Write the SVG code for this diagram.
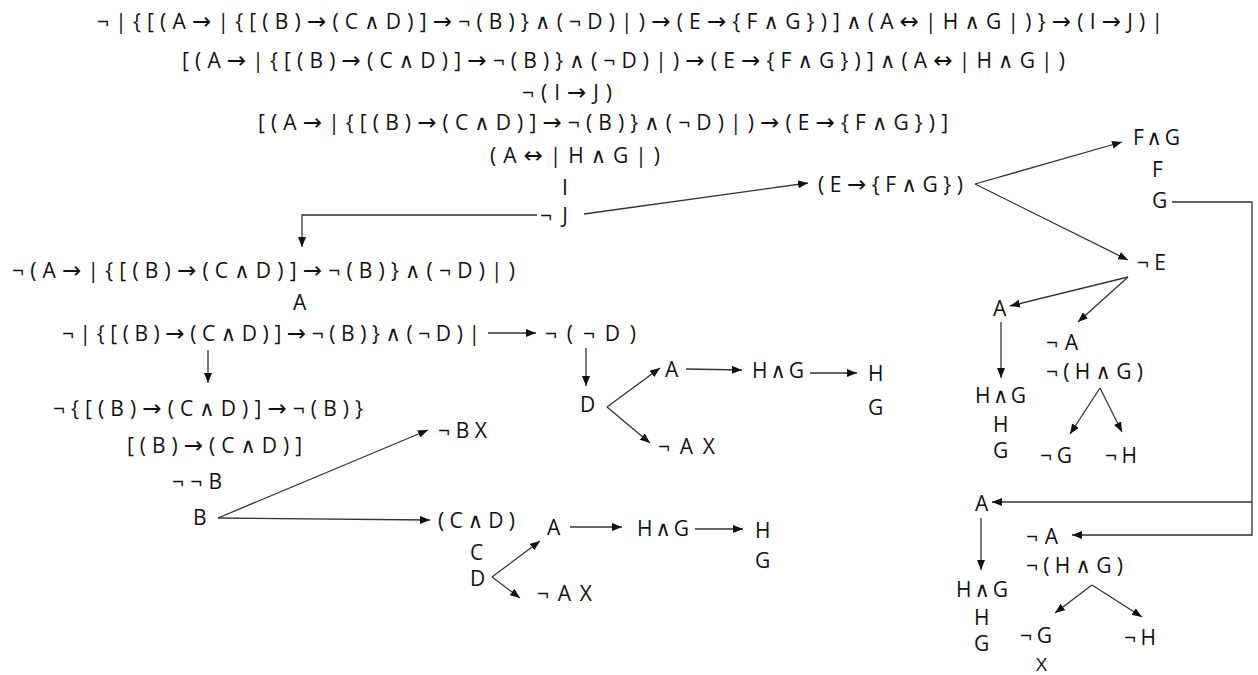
<svg xmlns="http://www.w3.org/2000/svg" width="1258" height="675" viewBox="0 0 1258 675">
<style>
text{font-family:"Open Sans","Noto Sans","DejaVu Sans",sans-serif;font-size:21px;fill:#111}
.a{font-family:"DejaVu Sans",sans-serif;font-size:23px}
.c line,.c polyline{stroke:#333;stroke-width:1.3;fill:none}
</style>
<defs>
<marker id="ah" markerUnits="userSpaceOnUse" markerWidth="10" markerHeight="8" refX="10" refY="4" orient="auto"><path d="M0,0 L10,4 L0,8 z" fill="#111"/></marker>
</defs>
<rect width="1258" height="675" fill="#fff"/>
<g id="root">
<text x="97" y="29" textLength="1066" lengthAdjust="spacing">¬ | { [ ( A <tspan class="a">→</tspan> | { [ ( B ) <tspan class="a">→</tspan> ( C ∧ D ) ] <tspan class="a">→</tspan> ¬ ( B ) } ∧ ( ¬ D ) | ) <tspan class="a">→</tspan> ( E <tspan class="a">→</tspan> { F ∧ G } ) ] ∧ ( A <tspan class="a">↔</tspan> | H ∧ G | ) } <tspan class="a">→</tspan> ( I <tspan class="a">→</tspan> J ) |</text>
<text x="182" y="68" textLength="883" lengthAdjust="spacing">[ ( A <tspan class="a">→</tspan> | { [ ( B ) <tspan class="a">→</tspan> ( C ∧ D ) ] <tspan class="a">→</tspan> ¬ ( B ) } ∧ ( ¬ D ) | ) <tspan class="a">→</tspan> ( E <tspan class="a">→</tspan> { F ∧ G } ) ] ∧ ( A <tspan class="a">↔</tspan> | H ∧ G | )</text>
<text x="522" y="100" textLength="90" lengthAdjust="spacing">¬ ( I <tspan class="a">→</tspan> J )</text>
<text x="258" y="130" textLength="690" lengthAdjust="spacing">[ ( A <tspan class="a">→</tspan> | { [ ( B ) <tspan class="a">→</tspan> ( C ∧ D ) ] <tspan class="a">→</tspan> ¬ ( B ) } ∧ ( ¬ D ) | ) <tspan class="a">→</tspan> ( E <tspan class="a">→</tspan> { F ∧ G } ) ]</text>
<text x="490" y="163" textLength="170" lengthAdjust="spacing">( A <tspan class="a">↔</tspan> | H ∧ G | )</text>
<text x="562" y="195">I</text>
<text x="540" y="223" textLength="28" lengthAdjust="spacing">¬ J</text>
</g>
<g id="left">
<text x="12" y="278" textLength="503" lengthAdjust="spacing">¬ ( A <tspan class="a">→</tspan> | { [ ( B ) <tspan class="a">→</tspan> ( C ∧ D ) ] <tspan class="a">→</tspan> ¬ ( B ) } ∧ ( ¬ D ) | )</text>
<text x="293" y="310">A</text>
<text x="62" y="341" textLength="418" lengthAdjust="spacing">¬ | { [ ( B ) <tspan class="a">→</tspan> ( C ∧ D ) ] <tspan class="a">→</tspan> ¬ ( B ) } ∧ ( ¬ D ) |</text>
<text x="53" y="416" textLength="310" lengthAdjust="spacing">¬ { [ ( B ) <tspan class="a">→</tspan> ( C ∧ D ) ] <tspan class="a">→</tspan> ¬ ( B ) }</text>
<text x="127" y="453" textLength="175" lengthAdjust="spacing">[ ( B ) <tspan class="a">→</tspan> ( C ∧ D ) ]</text>
<text x="172" y="489" textLength="50" lengthAdjust="spacing">¬ ¬ B</text>
<text x="193" y="525">B</text>
</g>
<g id="leftBranch">
<text x="438" y="438" textLength="49" lengthAdjust="spacing">¬ B X</text>
<text x="438" y="528" textLength="77" lengthAdjust="spacing">( C ∧ D )</text>
<text x="470" y="560">C</text>
<text x="470" y="586">D</text>
<text x="547" y="535">A</text>
<text x="537" y="601" textLength="55" lengthAdjust="spacing">¬ A  X</text>
<text x="637" y="536" textLength="52" lengthAdjust="spacing">H ∧ G</text>
<text x="755" y="538">H</text>
<text x="755" y="568">G</text>
</g>
<g id="middle">
<text x="545" y="341" textLength="91" lengthAdjust="spacing">¬ ( ¬ D )</text>
<text x="580" y="412">D</text>
<text x="665" y="377">A</text>
<text x="658" y="454" textLength="57" lengthAdjust="spacing">¬ A  X</text>
<text x="752" y="378" textLength="52" lengthAdjust="spacing">H ∧ G</text>
<text x="868" y="381">H</text>
<text x="868" y="415">G</text>
</g>
<g id="right">
<text x="818" y="192" textLength="145" lengthAdjust="spacing">( E <tspan class="a">→</tspan> { F ∧ G } )</text>
<text x="1133" y="145" textLength="47" lengthAdjust="spacing">F ∧ G</text>
<text x="1152" y="177">F</text>
<text x="1152" y="208">G</text>
<text x="1137" y="270" textLength="29" lengthAdjust="spacing">¬ E</text>
<text x="993" y="316">A</text>
<text x="1046" y="350" textLength="32" lengthAdjust="spacing">¬ A</text>
<text x="1046" y="379" textLength="97" lengthAdjust="spacing">¬ ( H ∧ G )</text>
<text x="975" y="403" textLength="51" lengthAdjust="spacing">H ∧ G</text>
<text x="993" y="432">H</text>
<text x="993" y="458">G</text>
<text x="1040" y="463" textLength="32" lengthAdjust="spacing">¬ G</text>
<text x="1105" y="463" textLength="32" lengthAdjust="spacing">¬ H</text>
</g>
<g id="rightLower">
<text x="975" y="511">A</text>
<text x="1026" y="544" textLength="32" lengthAdjust="spacing">¬ A</text>
<text x="1026" y="573" textLength="97" lengthAdjust="spacing">¬ ( H ∧ G )</text>
<text x="956" y="597" textLength="52" lengthAdjust="spacing">H ∧ G</text>
<text x="974" y="625">H</text>
<text x="974" y="651">G</text>
<text x="1020" y="643" textLength="32" lengthAdjust="spacing">¬ G</text>
<text x="1124" y="645" textLength="32" lengthAdjust="spacing">¬ H</text>
<text x="1036" y="671" style="font-size:19px">X</text>
</g>
<g id="connectors" class="c">
<polyline points="537,215 302,215 302,247" marker-end="url(#ah)"/>
<line x1="584" y1="214" x2="808" y2="183" marker-end="url(#ah)"/>
<line x1="488" y1="333" x2="536" y2="333" marker-end="url(#ah)"/>
<line x1="208" y1="350" x2="208" y2="383" marker-end="url(#ah)"/>
<line x1="218" y1="518" x2="428" y2="430" marker-end="url(#ah)"/>
<line x1="218" y1="518" x2="430" y2="520" marker-end="url(#ah)"/>
<line x1="492" y1="577" x2="540" y2="541" marker-end="url(#ah)"/>
<line x1="492" y1="577" x2="520" y2="598" marker-end="url(#ah)"/>
<line x1="570" y1="527" x2="622" y2="527" marker-end="url(#ah)"/>
<line x1="695" y1="529" x2="743" y2="529" marker-end="url(#ah)"/>
<line x1="586" y1="348" x2="586" y2="386" marker-end="url(#ah)"/>
<line x1="607" y1="407" x2="660" y2="368" marker-end="url(#ah)"/>
<line x1="607" y1="407" x2="650" y2="443" marker-end="url(#ah)"/>
<line x1="686" y1="369" x2="742" y2="370" marker-end="url(#ah)"/>
<line x1="810" y1="373" x2="857" y2="373" marker-end="url(#ah)"/>
<line x1="975" y1="184" x2="1122" y2="142" marker-end="url(#ah)"/>
<line x1="975" y1="184" x2="1128" y2="260" marker-end="url(#ah)"/>
<line x1="1128" y1="277" x2="1010" y2="306" marker-end="url(#ah)"/>
<line x1="1128" y1="277" x2="1078" y2="322" marker-end="url(#ah)"/>
<line x1="1001" y1="322" x2="1001" y2="378" marker-end="url(#ah)"/>
<line x1="1100" y1="388" x2="1070" y2="434" marker-end="url(#ah)"/>
<line x1="1100" y1="388" x2="1122" y2="432" marker-end="url(#ah)"/>
<polyline points="1172,202 1252,202 1252,535 1072,535" marker-end="url(#ah)"/>
<line x1="1252" y1="502" x2="992" y2="502" marker-end="url(#ah)"/>
<line x1="981" y1="518" x2="981" y2="570" marker-end="url(#ah)"/>
<line x1="1092" y1="585" x2="1055" y2="613" marker-end="url(#ah)"/>
<line x1="1092" y1="585" x2="1142" y2="617" marker-end="url(#ah)"/>
</g>
</svg>
